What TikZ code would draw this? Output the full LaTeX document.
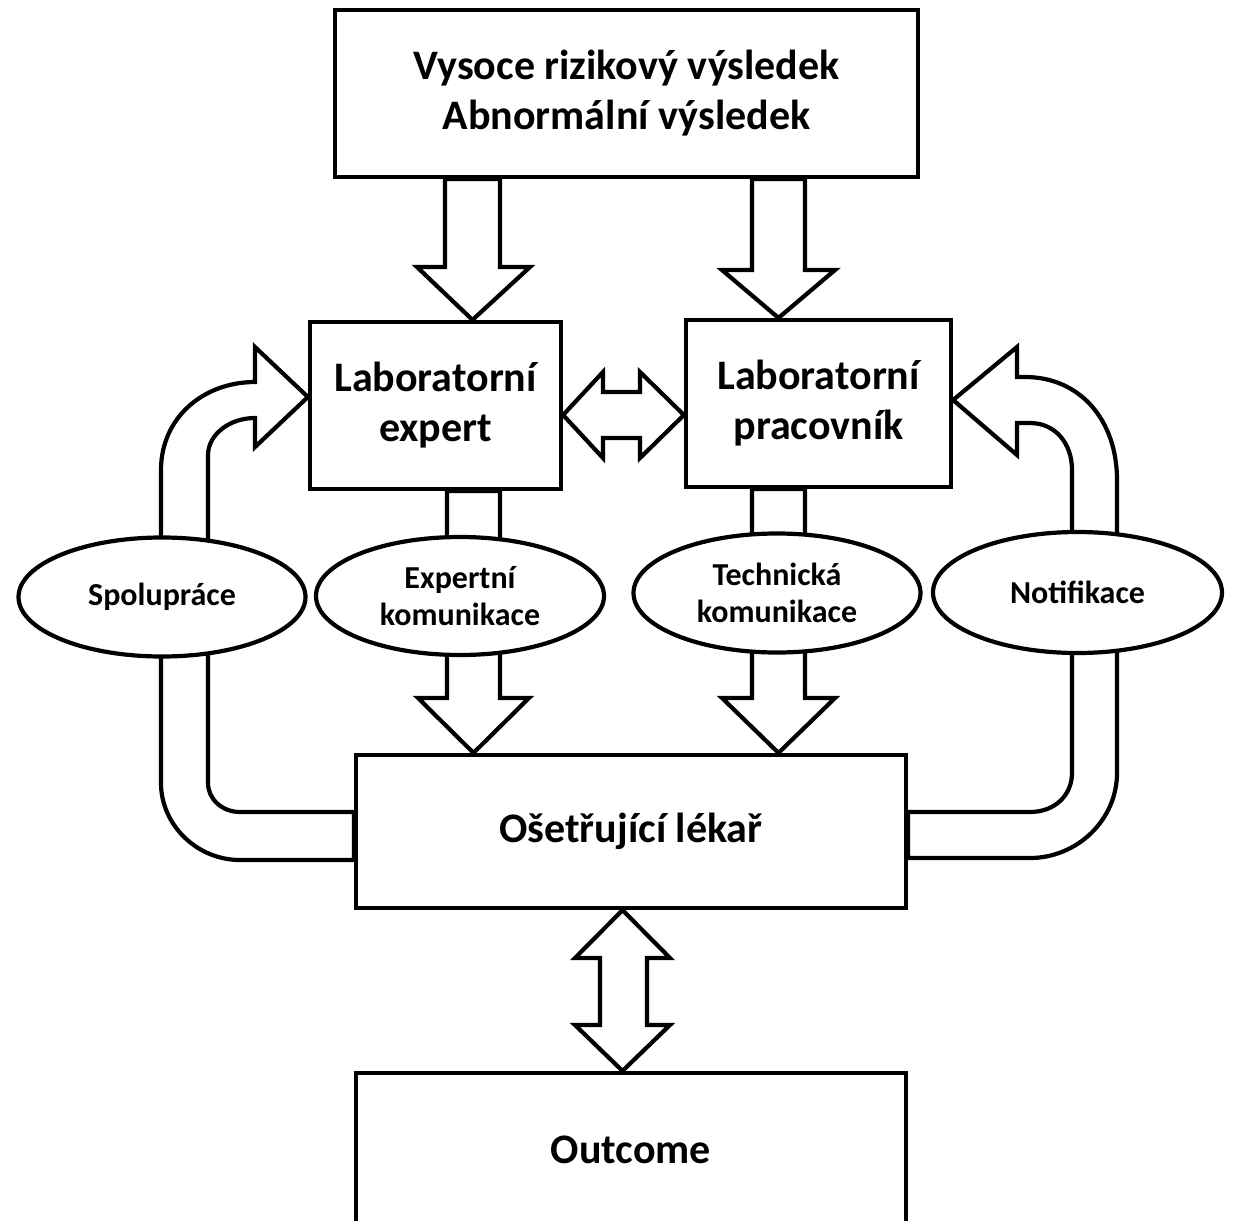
\documentclass[tikz,border=0pt]{standalone}
\usepackage{fontspec}
\setmainfont{Carlito}
\usetikzlibrary{shapes.geometric,backgrounds}
\begin{document}
\begin{tikzpicture}[x=0.5pt,y=-0.5pt,
  box/.style={draw=black,line width=2.1pt,fill=white,rectangle,inner sep=0pt,align=center,
    font=\fontsize{21}{25}\selectfont\bfseries},
  oval/.style={draw=black,line width=2.1pt,fill=white,ellipse,inner sep=0pt,align=center,
    font=\fontsize{16}{18.5}\selectfont\bfseries},
  blk/.style={draw=black,line width=2.1pt,fill=white,line join=miter}]
\useasboundingbox (0,0) rectangle (1233,1221);

% boxes
\node[box,minimum width=291.5pt,minimum height=83.5pt] (top) at (626.5,93.5)
  {Vysoce rizikový výsledek\\Abnormální výsledek};
\node[box,minimum width=125.5pt,minimum height=83.5pt] (expert) at (435.5,405.5)
  {Laboratorní\\expert};
\node[box,minimum width=132.5pt,minimum height=83.5pt] (prac) at (818.5,403.5)
  {Laboratorní\\pracovník};
\node[box,minimum width=275pt,minimum height=76.5pt] (osetr) at (631,831.5)
  {Ošetřující lékař};
\node[box,minimum width=275pt,minimum height=77pt] (outcome) at (631,1150)
  {Outcome};

% ellipses
\node[oval,minimum width=143.5pt,minimum height=59.5pt] (spol) at (162,597) {Spolupráce};
\node[oval,minimum width=144pt,minimum height=59pt] (expk) at (460,596) {Expertní\\komunikace};
\node[oval,minimum width=143.5pt,minimum height=59.5pt] (tech) at (777,593) {Technická\\komunikace};
\node[oval,minimum width=144.5pt,minimum height=60.5pt] (notif) at (1077.5,592.5) {Notifikace};

\begin{scope}[on background layer]
% top -> expert
\draw[blk] (445,0 |- top.south) -- (445,267) -- (417,267) -- (472.5,0 |- expert.north)
  -- (530,267) -- (500,267) -- (500,0 |- top.south) -- cycle;
% top -> prac
\draw[blk] (752,0 |- top.south) -- (752,270) -- (722,270) -- (778.5,0 |- prac.north)
  -- (835,270) -- (805,270) -- (805,0 |- top.south) -- cycle;
% expert -> osetr (through expk)
\draw[blk] (447,0 |- expert.south) -- (447,698) -- (418,698) -- (473.5,0 |- osetr.north)
  -- (529,698) -- (500,698) -- (500,0 |- expert.south) -- cycle;
% prac -> osetr (through tech)
\draw[blk] (752,0 |- prac.south) -- (752,698) -- (722,698) -- (778.5,0 |- osetr.north)
  -- (835,698) -- (805,698) -- (805,0 |- prac.south) -- cycle;
% expert <-> prac
\draw[blk] (expert.east |- 0,415) -- (603,372) -- (603,392) -- (640,392) -- (640,372)
  -- (prac.west |- 0,415) -- (640,458) -- (640,438) -- (603,438) -- (603,458) -- cycle;
% osetr <-> outcome
\draw[blk] (622.5,0 |- osetr.south) -- (670,958) -- (647,958) -- (647,1025) -- (670,1025)
  -- (622.5,0 |- outcome.north) -- (575,1025) -- (600,1025) -- (600,958) -- (575,958) -- cycle;
% left loop: osetr -> expert (through spol)
\draw[blk] (osetr.west |- 0,860) -- (240,860) .. controls (197,860) and (161,825) .. (161,783)
  -- (161,470) .. controls (161,418) and (203,382) .. (255,382)
  -- (255,347) -- (expert.west |- 0,397) -- (255,447) -- (255,418)
  .. controls (229,418) and (208,435) .. (208,455)
  -- (208,783) .. controls (208,799) and (222,812) .. (240,812)
  -- (osetr.west |- 0,812) -- cycle;
% right loop: osetr -> prac (through notif)
\draw[blk] (osetr.east |- 0,858) -- (1030,858) .. controls (1077,858) and (1117,820) .. (1117,773)
  -- (1117,480) .. controls (1117,420) and (1080,377) .. (1025,377)
  -- (1017,377) -- (1017,347) -- (prac.east |- 0,400) -- (1017,455) -- (1017,423)
  -- (1030,423) .. controls (1055,423) and (1072,443) .. (1072,470)
  -- (1072,773) .. controls (1072,795) and (1055,812) .. (1030,812)
  -- (osetr.east |- 0,812) -- cycle;
\end{scope}
\end{tikzpicture}
\end{document}
